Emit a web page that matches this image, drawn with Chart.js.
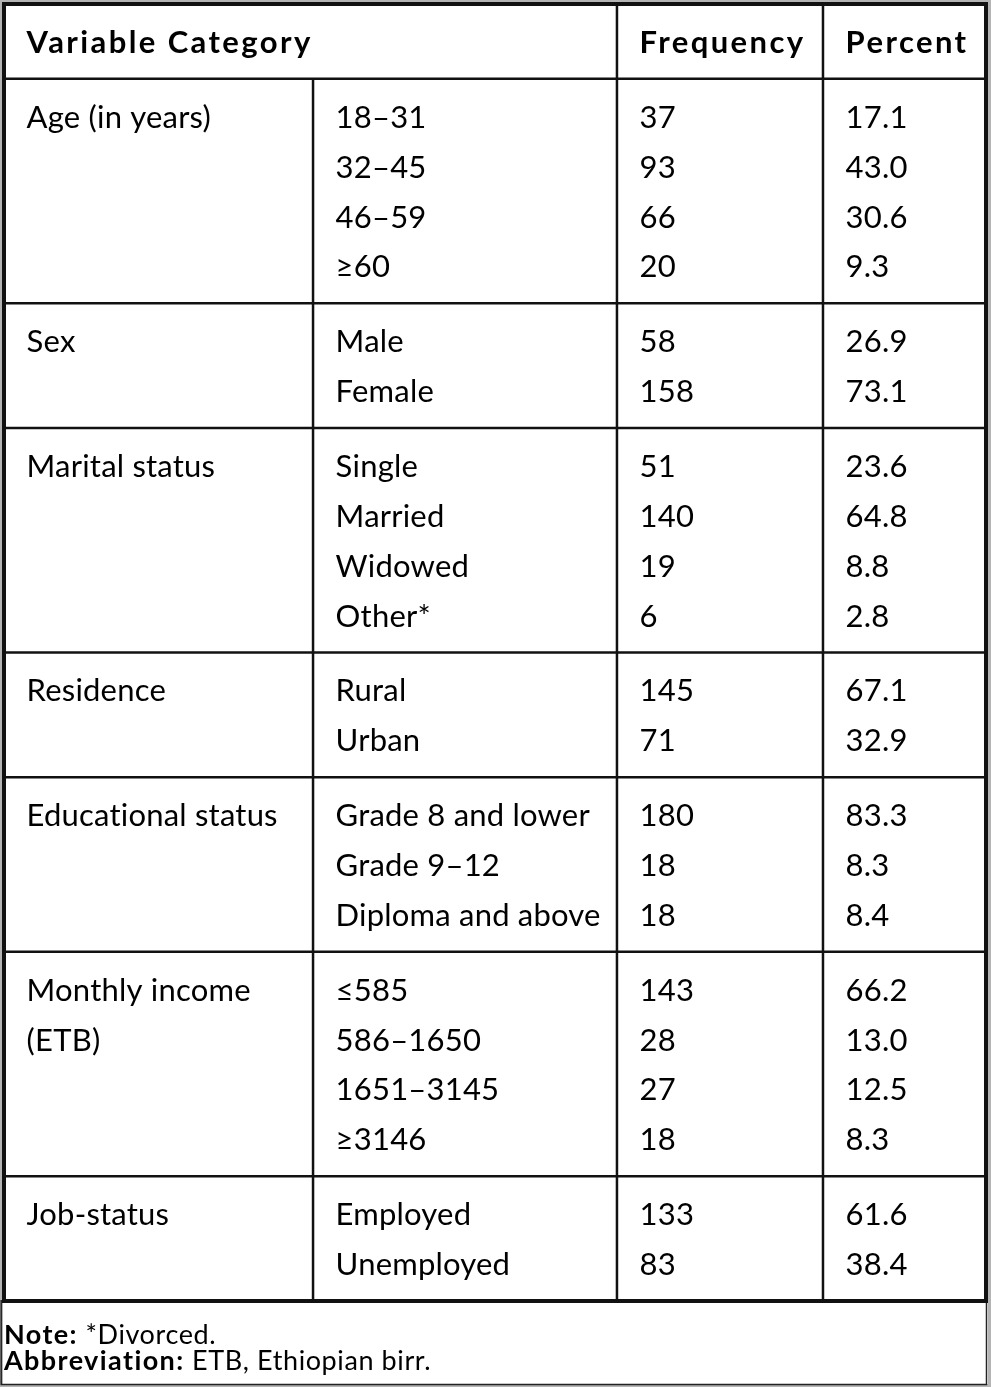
<!DOCTYPE html>
<html>
<head>
<meta charset="utf-8">
<script src="https://cdn.jsdelivr.net/npm/chart.js@4"></script>
<style>
  html, body { margin: 0; padding: 0; background: #fff; }
  canvas { display: block; }
</style>
</head>
<body>
<canvas id="tableChart" width="991" height="1387"></canvas>
<script>
// ===============================
// Data
// ===============================
const headers = ["Variable Category", "Frequency", "Percent"];
const groupNames = [
  ["Age (in years)"],
  ["Sex"],
  ["Marital status"],
  ["Residence"],
  ["Educational status"],
  ["Monthly income", "(ETB)"],
  ["Job-status"],
];
const categories = [
  ["18–31", "32–45", "46–59", "≥60"],
  ["Male", "Female"],
  ["Single", "Married", "Widowed", "Other*"],
  ["Rural", "Urban"],
  ["Grade 8 and lower", "Grade 9–12", "Diploma and above"],
  ["≤585", "586–1650", "1651–3145", "≥3146"],
  ["Employed", "Unemployed"],
];
const frequency = [
  [37, 93, 66, 20],
  [58, 158],
  [51, 140, 19, 6],
  [145, 71],
  [180, 18, 18],
  [143, 28, 27, 18],
  [133, 83],
];
const percent = [
  [17.1, 43.0, 30.6, 9.3],
  [26.9, 73.1],
  [23.6, 64.8, 8.8, 2.8],
  [67.1, 32.9],
  [83.3, 8.3, 8.4],
  [66.2, 13.0, 12.5, 8.3],
  [61.6, 38.4],
];
const notes = [
  ["Note:", " *Divorced."],
  ["Abbreviation:", " ETB, Ethiopian birr."],
];

// ===============================
// Layout (scale units)
// ===============================
const colEdges = [0, 31.47, 62.42, 83.4, 100]; // x scale 0..100
const textPad = 2.3;
const headerRows = 1.5;
const groupPad = 0.5;
const FONT = "Lato, 'Open Sans', sans-serif";

// group start positions on the y scale (row slots)
const groupStarts = [];
let pos = headerRows;
categories.forEach((c) => {
  groupStarts.push(pos);
  pos += c.length + groupPad;
});
const totalRows = pos;

function slotY(g, i) {
  return groupStarts[g] + groupPad / 2 + i + 0.5;
}

function colX(c) {
  return colEdges[c] + textPad;
}

// ===============================
// Datasets: one per column, one point per cell
// ===============================
const colGroup = [];
const colCat = [];
const colFreq = [];
const colPct = [];
categories.forEach((cats, g) => {
  groupNames[g].forEach((line, i) => {
    colGroup.push({ x: colX(0), y: slotY(g, i), text: line });
  });
  cats.forEach((cat, i) => {
    colCat.push({ x: colX(1), y: slotY(g, i), text: cat });
    colFreq.push({ x: colX(2), y: slotY(g, i), text: String(frequency[g][i]) });
    colPct.push({ x: colX(3), y: slotY(g, i), text: percent[g][i].toFixed(1) });
  });
});
const headerCells = [
  { x: colX(0), y: headerRows / 2, text: headers[0] },
  { x: colX(2), y: headerRows / 2, text: headers[1] },
  { x: colX(3), y: headerRows / 2, text: headers[2] },
];

// ===============================
// Plugin: frame, grid lines, cell text
// ===============================
const tablePlugin = {
  id: "tablePlugin",
  beforeDraw(chart) {
    const ctx = chart.ctx;
    const { width, height } = chart;
    ctx.save();
    ctx.fillStyle = "#fff";
    ctx.fillRect(0, 0, width, height);
    // outer gray frame of the picture
    ctx.strokeStyle = "#b4b4b4";
    ctx.lineWidth = 3;
    ctx.strokeRect(1.5, 1.5, width - 3, height - 3);
    ctx.strokeStyle = "#222";
    ctx.lineWidth = 1.5;
    ctx.beginPath();
    ctx.moveTo(1.2, 1300);
    ctx.lineTo(1.2, 1384.5);
    ctx.lineTo(986.5, 1384.5);
    ctx.lineTo(986.5, 1300);
    ctx.stroke();
    ctx.restore();
  },
  afterDatasetsDraw(chart) {
    const ctx = chart.ctx;
    const xs = chart.scales.x;
    const ys = chart.scales.y;
    const area = chart.chartArea;
    ctx.save();
    ctx.strokeStyle = "#111";

    // horizontal lines
    ctx.lineWidth = 2.5;
    const hLines = [headerRows].concat(groupStarts.slice(1));
    hLines.forEach((v) => {
      const y = ys.getPixelForValue(v);
      ctx.beginPath();
      ctx.moveTo(area.left, y);
      ctx.lineTo(area.right, y);
      ctx.stroke();
    });
    // vertical lines
    [1, 2, 3].forEach((c) => {
      const x = xs.getPixelForValue(colEdges[c]);
      const top = c === 1 ? ys.getPixelForValue(headerRows) : area.top;
      ctx.beginPath();
      ctx.moveTo(x, top);
      ctx.lineTo(x, area.bottom);
      ctx.stroke();
    });
    // outer border
    ctx.lineWidth = 4;
    ctx.strokeRect(area.left, area.top, area.right - area.left, area.bottom - area.top);

    // cell text
    ctx.fillStyle = "#000";
    ctx.textAlign = "left";
    ctx.textBaseline = "alphabetic";
    chart.data.datasets.forEach((ds, di) => {
      const meta = chart.getDatasetMeta(di);
      if (ds.bold) {
        ctx.font = "bold 31px " + FONT;
        ctx.letterSpacing = "2.4px";
      } else {
        ctx.font = "31px " + FONT;
        ctx.letterSpacing = "0.2px";
      }
      meta.data.forEach((el, i) => {
        ctx.fillText(ds.data[i].text, el.x, el.y + 11.5);
      });
    });

    // notes under the table
    notes.forEach((n, i) => {
      const y = area.bottom + 43 + i * 26;
      ctx.font = "bold 27px " + FONT;
      ctx.letterSpacing = "1.4px";
      ctx.fillText(n[0], 4, y);
      const w = ctx.measureText(n[0]).width;
      ctx.font = "27px " + FONT;
      ctx.letterSpacing = "0.6px";
      ctx.fillText(n[1], 4 + w, y);
    });
    ctx.restore();
  },
};

new Chart(document.getElementById("tableChart"), {
  type: "scatter",
  data: {
    datasets: [
      { label: "header", data: headerCells, bold: true },
      { label: "Variable", data: colGroup },
      { label: "Category", data: colCat },
      { label: "Frequency", data: colFreq },
      { label: "Percent", data: colPct },
    ].map((d) => Object.assign(d, { pointRadius: 0, pointHoverRadius: 0 })),
  },
  options: {
    responsive: false,
    animation: false,
    events: [],
    layout: { padding: { left: 4, top: 4, right: 5, bottom: 86 } },
    plugins: { legend: { display: false }, tooltip: { enabled: false } },
    scales: {
      x: { type: "linear", display: false, min: 0, max: 100 },
      y: { type: "linear", display: false, min: 0, max: totalRows, reverse: true },
    },
  },
  plugins: [tablePlugin],
});
</script>
</body>
</html>
